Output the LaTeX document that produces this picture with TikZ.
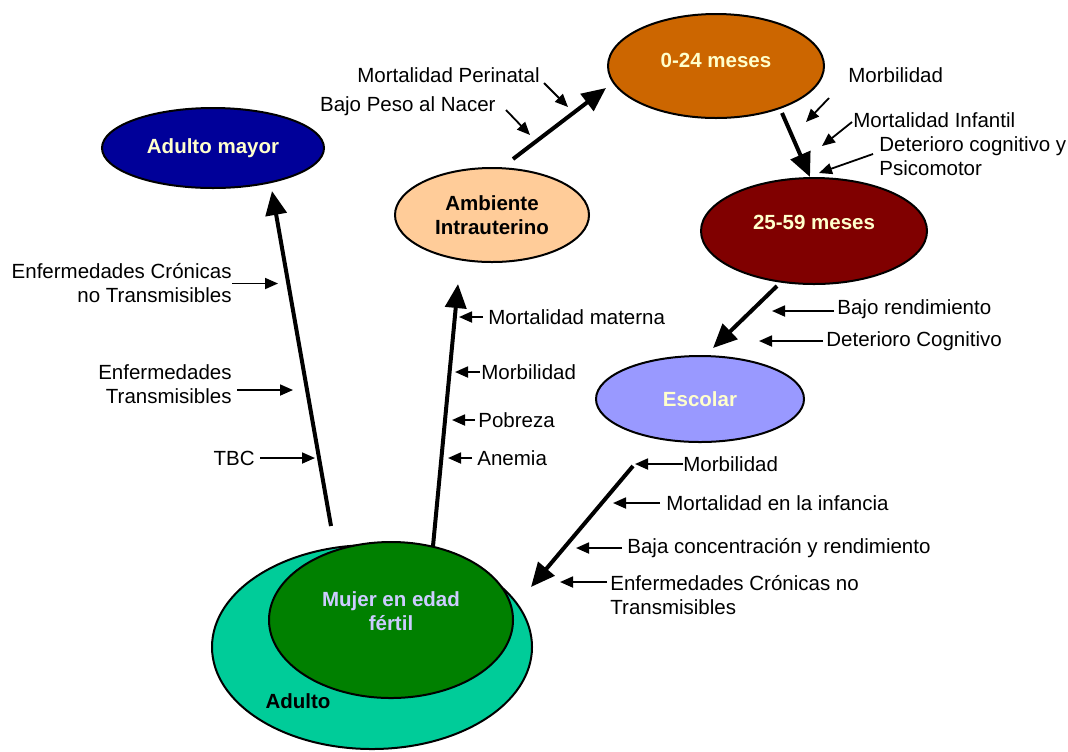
\documentclass[tikz,border=0pt]{standalone}
\usepackage{fontspec}
\setmainfont{Liberation Sans}
\usetikzlibrary{shapes,arrows.meta,positioning,calc}

\definecolor{azulmayor}{HTML}{000099}
\definecolor{naranja}{HTML}{CC6600}
\definecolor{granate}{HTML}{800000}
\definecolor{durazno}{HTML}{FFCC99}
\definecolor{lila}{HTML}{9999FF}
\definecolor{turquesa}{HTML}{00CC99}
\definecolor{verde}{HTML}{008000}
\definecolor{crema}{HTML}{FFFFCC}
\definecolor{lavanda}{HTML}{CCCCFF}
\newcommand{\tam}{\fontsize{10.25}{12}\selectfont}

\begin{document}
\begin{tikzpicture}[x=0.5pt, y=-0.5pt,
  etapa/.style={draw, ellipse, line width=1pt, inner sep=0pt, align=center, font=\tam\bfseries},
  titulo/.style={inner sep=0pt, align=center, font=\tam\bfseries},
  factor/.style={inner sep=0pt, font=\tam},
  flecha/.style={-{Triangle[length=6.5pt,width=5.5pt]}, line width=0.9pt},
  gruesa/.style={-{Triangle[length=12pt,width=10.5pt]}, line width=2pt}]
\useasboundingbox (0,0) rectangle (1068,751);

% etapas de la vida
\node[etapa, fill=turquesa, minimum width=160pt, minimum height=102pt] (adulto) at (372,647) {};
\node[etapa, fill=verde, minimum width=122pt, minimum height=78pt] (mujer) at (391,620) {};
\node[titulo, text=lavanda] (tmujer) at (391,611) {Mujer en edad\\fértil};
\node[titulo] (tadulto) at (298,701) {Adulto};
\node[etapa, fill=azulmayor, text=crema, minimum width=111pt, minimum height=40pt] (mayor) at (213,148) {Adulto mayor};
\node[etapa, fill=durazno, minimum width=97pt, minimum height=47pt] (ambiente) at (492,215) {Ambiente\\Intrauterino};
\node[etapa, fill=naranja, minimum width=108pt, minimum height=52pt] (ed24) at (716,66) {};
\node[titulo, text=crema] (t24) at (716,60) {0-24 meses};
\node[etapa, fill=granate, minimum width=113pt, minimum height=53pt] (ed2559) at (814,231) {};
\node[titulo, text=crema] (t2559) at (814,222) {25-59 meses};
\node[etapa, fill=lila, text=crema, minimum width=104pt, minimum height=43pt] (escolar) at (700,399) {Escolar};

% transiciones
\draw[gruesa] ([shift={(-60,-15)}]mujer.north) -- ([shift={(59,2)}]mayor.south);
\draw[gruesa] ([shift={(42,5)}]mujer.north) -- ([shift={(-34,21)}]ambiente.south);
\draw[gruesa] ([shift={(21,-8)}]ambiente.north) -- ([shift={(-1,22)}]ed24.west);
\draw[gruesa] ([shift={(66,-6)}]ed24.south) -- ([shift={(-4,0)}]ed2559.north);
\draw[gruesa] ([shift={(-37,1)}]ed2559.south) -- ([shift={(13,-7)}]escolar.north);
\draw[gruesa] ([shift={(-67,23)}]escolar.south) -- ([shift={(17,-33)}]mujer.east);

% factores: adulto mayor
\node[factor, anchor=east, align=right] (cronicas) at (232,283.5) {Enfermedades Crónicas\\no Transmisibles};
\node[factor, anchor=east, align=right] (transm) at (232,384) {Enfermedades\\Transmisibles};
\node[factor, anchor=east] (tbc) at (255,458) {TBC};
\draw[flecha] (cronicas.east) -- ++(46,0);
\draw[flecha] ([shift={(5,6)}]transm.east) -- ++(56,0);
\draw[flecha] ([shift={(5,0)}]tbc.east) -- ++(55,0);

% factores: ambiente intrauterino
\node[factor, anchor=west] (materna) at (488,317) {Mortalidad materna};
\node[factor, anchor=west] (morb2) at (481,372) {Morbilidad};
\node[factor, anchor=west] (pobreza) at (478,420) {Pobreza};
\node[factor, anchor=west] (anemia) at (477,458) {Anemia};
\draw[flecha] ([xshift=-2.5pt]materna.west) -- ++(-24,0);
\draw[flecha] ([xshift=-0.5pt]morb2.west) -- ++(-25,0);
\draw[flecha] ([xshift=-1.5pt]pobreza.west) -- ++(-23,0);
\draw[flecha] ([xshift=-2.5pt]anemia.west) -- ++(-24,0);

% factores: 0-24 meses
\node[factor, anchor=east] (perinatal) at (540,75) {Mortalidad Perinatal};
\node[factor, anchor=east] (bajopeso) at (496,106) {Bajo Peso al Nacer};
\draw[flecha] ([shift={(4,8)}]perinatal.east) -- ++(24,24);
\draw[flecha] ([shift={(10,4)}]bajopeso.east) -- ++(24,25);

% factores: 25-59 meses
\node[factor, anchor=west] (morb1) at (848,75) {Morbilidad};
\node[factor, anchor=west] (infantil) at (853,120) {Mortalidad Infantil};
\node[factor, anchor=west, align=left] (deterioro) at (879,156.5) {Deterioro cognitivo y\\Psicomotor};
\draw[flecha] ([shift={(-19,23)}]morb1.west) -- ++(-23,24);
\draw[flecha] ([shift={(-1,2)}]infantil.west) -- ++(-30,24);
\draw[flecha] ([shift={(-6,-2.5)}]deterioro.west) -- ++(-54,19);

% factores: escolar
\node[factor, anchor=west] (rendim) at (837,309) {Bajo rendimiento};
\node[factor, anchor=west] (cognitivo) at (826,341) {Deterioro Cognitivo};
\draw[flecha] ([shift={(-3,2)}]rendim.west) -- ++(-62,0);
\draw[flecha] ([xshift=-1.5pt]cognitivo.west) -- ++(-64,0);

% factores: adulto
\node[factor, anchor=west] (morb3) at (683,464) {Morbilidad};
\node[factor, anchor=west] (infancia) at (666,503) {Mortalidad en la infancia};
\node[factor, anchor=west] (concentr) at (627,548) {Baja concentración y rendimiento};
\node[factor, anchor=west, align=left] (cronicas2) at (610,595.5) {Enfermedades Crónicas no\\Transmisibles};
\draw[flecha] (morb3.west) -- ++(-48,0);
\draw[flecha] ([xshift=-3pt]infancia.west) -- ++(-47,0);
\draw[flecha] ([xshift=-2.5pt]concentr.west) -- ++(-46,0);
\draw[flecha] ([shift={(-3,-13.5)}]cronicas2.west) -- ++(-47,0);
\end{tikzpicture}
\end{document}
